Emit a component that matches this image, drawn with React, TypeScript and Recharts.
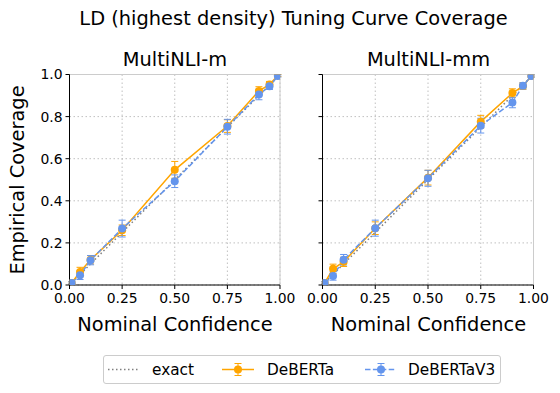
import React from 'react';
import { LineChart, Line, XAxis, YAxis, CartesianGrid, ErrorBar, ReferenceLine } from 'recharts';

const nominal = [0.01, 0.05, 0.1, 0.25, 0.5, 0.75, 0.9, 0.95, 0.99];
const mDeberta = [0.01, 0.062, 0.12, 0.26, 0.547, 0.755, 0.922, 0.952, 0.995];
const mDebertaErr = [0.005, 0.022, 0.02, 0.025, 0.04, 0.03, 0.02, 0.015, 0.005];
const mV3 = [0.01, 0.046, 0.118, 0.268, 0.493, 0.752, 0.905, 0.944, 0.993];
const mV3Err = [0.005, 0.02, 0.022, 0.04, 0.03, 0.035, 0.025, 0.015, 0.005];
const mmDeberta = [0.01, 0.077, 0.11, 0.27, 0.51, 0.776, 0.912, 0.945, 0.993];
const mmDebertaErr = [0.005, 0.022, 0.022, 0.03, 0.035, 0.03, 0.02, 0.015, 0.005];
const mmV3 = [0.01, 0.043, 0.12, 0.27, 0.507, 0.757, 0.867, 0.946, 0.993];
const mmV3Err = [0.005, 0.02, 0.025, 0.038, 0.038, 0.035, 0.025, 0.015, 0.005];

const exactX = [0, 1];
const xTicks = [0, 0.25, 0.5, 0.75, 1];
const yTicks = [0, 0.2, 0.4, 0.6, 0.8, 1];

const ORANGE = '#FFA500';
const BLUE = '#6495ED';
const GRAY = '#808080';
const FONT = 'DejaVu Sans, sans-serif';

const build = (ys: number[], errs: number[]) => nominal.map((x, i) => ({ x, y: ys[i], err: errs[i] }));
const exactData = exactX.map((v) => ({ x: v, y: v }));

function Panel({ deb, debErr, v3, v3Err, showY, width, margin }: any) {
  return (
    <LineChart width={width} height={393} margin={margin}>
      <CartesianGrid stroke="#b0b0b0" strokeDasharray="1.5 2.5" strokeWidth={0.8} />
      <ReferenceLine y={1} stroke="#cccccc" strokeWidth={1} ifOverflow="extendDomain" />
      <ReferenceLine x={1} stroke="#cccccc" strokeWidth={1} ifOverflow="extendDomain" />
      <XAxis
        dataKey="x"
        type="number"
        domain={[0, 1]}
        ticks={xTicks}
        tickFormatter={(v: number) => v.toFixed(2)}
        tick={{ fill: '#000', fontSize: 13.9, fontFamily: FONT }}
        tickSize={4}
        tickMargin={4}
        axisLine={{ stroke: '#000' }}
        tickLine={{ stroke: '#000' }}
        allowDataOverflow
        height={30}
      />
      <YAxis
        type="number"
        domain={[0, 1]}
        ticks={yTicks}
        tickFormatter={(v: number) => (showY ? v.toFixed(1) : '')}
        tick={{ fill: '#000', fontSize: 13.9, fontFamily: FONT }}
        tickSize={4}
        tickMargin={3}
        axisLine={{ stroke: '#000' }}
        tickLine={{ stroke: '#000' }}
        allowDataOverflow
        width={showY ? 30 : 10}
      />
      <Line
        data={exactData}
        dataKey="y"
        stroke={GRAY}
        strokeWidth={1.5}
        strokeDasharray="1.5 2.5"
        dot={false}
        isAnimationActive={false}
      />
      <Line
        data={build(deb, debErr)}
        dataKey="y"
        stroke={ORANGE}
        strokeWidth={1.5}
        dot={{ r: 4, fill: ORANGE, stroke: ORANGE, strokeWidth: 0 }}
        isAnimationActive={false}
      >
        <ErrorBar dataKey="err" width={3.5} stroke={ORANGE} strokeWidth={1} direction="y" />
      </Line>
      <Line
        data={build(v3, v3Err)}
        dataKey="y"
        stroke={BLUE}
        strokeWidth={1.5}
        strokeDasharray="5.5 2.4"
        dot={{ r: 4, fill: BLUE, stroke: BLUE, strokeWidth: 0, strokeDasharray: '' }}
        isAnimationActive={false}
      >
        <ErrorBar dataKey="err" width={3.5} stroke={BLUE} strokeWidth={1} direction="y" />
      </Line>
    </LineChart>
  );
}

const textStyle: React.CSSProperties = {
  position: 'absolute',
  fontFamily: FONT,
  color: '#000',
  whiteSpace: 'nowrap',
  fontSize: 19.4,
  lineHeight: '22px',
};

export default function App() {
  return (
    <div style={{ position: 'absolute', left: 0, top: 0, width: 560, height: 393, background: '#fff', overflow: 'hidden' }}>
      <div style={{ ...textStyle, left: 0, width: 587, top: 8, textAlign: 'center' }}>
        LD (highest density) Tuning Curve Coverage
      </div>
      <div style={{ ...textStyle, left: 70, width: 210, top: 49, textAlign: 'center' }}>MultiNLI-m</div>
      <div style={{ ...textStyle, left: 323, width: 211, top: 49, textAlign: 'center' }}>MultiNLI-mm</div>
      <div style={{ position: 'absolute', left: 0, top: 0 }}>
        <Panel deb={mDeberta} debErr={mDebertaErr} v3={mV3} v3Err={mV3Err} showY width={300}
          margin={{ left: 39.5, top: 74.5, right: 20, bottom: 78 }} />
      </div>
      <div style={{ position: 'absolute', left: 290, top: 0 }}>
        <Panel deb={mmDeberta} debErr={mmDebertaErr} v3={mmV3} v3Err={mmV3Err} showY={false} width={270}
          margin={{ left: 22.5, top: 74.5, right: 26.5, bottom: 78 }} />
      </div>
      <div style={{ ...textStyle, left: 70, width: 210, top: 314, textAlign: 'center' }}>Nominal Confidence</div>
      <div style={{ ...textStyle, left: 323, width: 211, top: 314, textAlign: 'center' }}>Nominal Confidence</div>
      <div style={{ ...textStyle, left: 18, top: 180, transform: 'translate(-50%, -50%) rotate(-90deg)' }}>
        Empirical Coverage
      </div>
      <div style={{ position: 'absolute', left: 103, top: 355, width: 396, height: 27, border: '1px solid #cccccc', borderRadius: 3 }}>
        <svg width={396} height={27} style={{ position: 'absolute', left: 0, top: 0 }}>
          <line x1={4} x2={34} y1={13.5} y2={13.5} stroke={GRAY} strokeWidth={1.5} strokeDasharray="1.5 2.5" />
          <line x1={118} x2={150} y1={13.5} y2={13.5} stroke={ORANGE} strokeWidth={1.5} />
          <line x1={134} x2={134} y1={7.5} y2={19.5} stroke={ORANGE} strokeWidth={1} />
          <line x1={130.5} x2={137.5} y1={7.5} y2={7.5} stroke={ORANGE} strokeWidth={1} />
          <line x1={130.5} x2={137.5} y1={19.5} y2={19.5} stroke={ORANGE} strokeWidth={1} />
          <circle cx={134} cy={13.5} r={4} fill={ORANGE} />
          <line x1={261} x2={292} y1={13.5} y2={13.5} stroke={BLUE} strokeWidth={1.5} strokeDasharray="5.5 2.4" />
          <line x1={277} x2={277} y1={7.5} y2={19.5} stroke={BLUE} strokeWidth={1} />
          <line x1={273.5} x2={280.5} y1={7.5} y2={7.5} stroke={BLUE} strokeWidth={1} />
          <line x1={273.5} x2={280.5} y1={19.5} y2={19.5} stroke={BLUE} strokeWidth={1} />
          <circle cx={277} cy={13.5} r={4} fill={BLUE} />
          <text x={48} y={19} fontFamily={FONT} fontSize={15.3}>exact</text>
          <text x={163} y={19} fontFamily={FONT} fontSize={15.3}>DeBERTa</text>
          <text x={304} y={19} fontFamily={FONT} fontSize={15.3}>DeBERTaV3</text>
        </svg>
      </div>
    </div>
  );
}
